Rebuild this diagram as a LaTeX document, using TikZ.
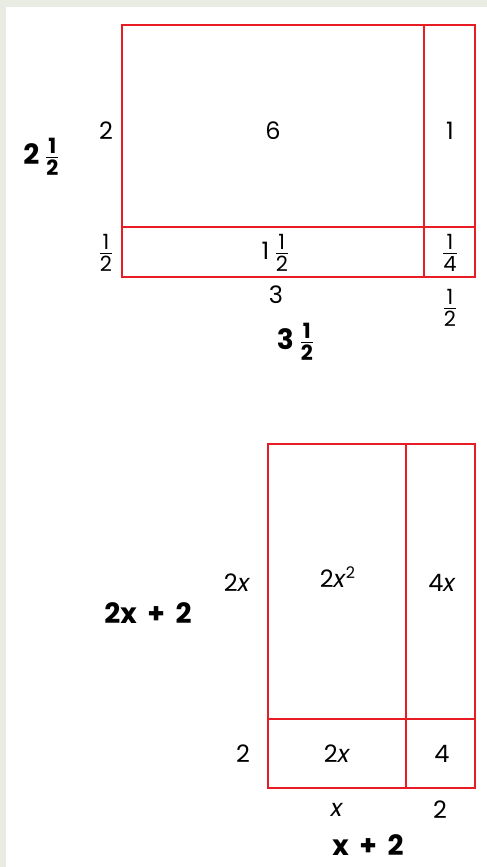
\documentclass[tikz,border=0pt]{standalone}
\usepackage{amsmath}
\usepackage{fontspec}
\setmainfont{Poppins}
\usetikzlibrary{positioning}
\definecolor{boxred}{RGB}{232,28,36}
\definecolor{scanedge}{RGB}{232,236,226}
% stacked fractions, light and bold
\newcommand{\stk}[2]{\ensuremath{\genfrac{}{}{0.5pt}{1}{\mbox{\fontsize{10.5}{11}\selectfont #1\rule[-1.2pt]{0pt}{1pt}}}{\mbox{\fontsize{10.5}{11}\selectfont\rule{0pt}{8.6pt}#2}}}}
\newcommand{\bstk}[2]{\ensuremath{\genfrac{}{}{0.9pt}{1}{\mbox{\fontsize{10.5}{11}\selectfont\bfseries #1}}{\mbox{\fontsize{10.5}{11}\selectfont\bfseries #2}}}}

\begin{document}
\begin{tikzpicture}[x=0.5pt, y=-0.5pt,
  cell/.style={draw=boxred, line width=1pt},
  lbl/.style={font=\fontsize{12}{14}\selectfont, inner sep=1pt},
  sumlbl/.style={font=\fontsize{14}{16}\selectfont\bfseries, inner sep=1pt}]
\useasboundingbox (0,0) rectangle (487,867);
\fill[white] (0,0) rectangle (487,867);
\fill[scanedge] (0,0) rectangle (487,7);
\fill[scanedge] (0,0) rectangle (6,867);
% --- top area model: 2 1/2 by 3 1/2 ---
\coordinate (tNW) at (122,25);
\coordinate (tSE) at (475,277);
\coordinate (tCut) at (424,227);
\draw[cell] (tNW) rectangle (tSE);
\draw[cell] (tNW -| tCut) -- (tSE -| tCut);
\draw[cell] (tNW |- tCut) -- (tSE |- tCut);
\foreach \x/\y/\t/\n in {106/253/{\stk{1}{2}}/tSideB, 276/253/{1\,\stk{1}{2}}/tLow, 450/253/{\stk{1}{4}}/tCorner,
    450/308/{\stk{1}{2}}/tBaseB, 106/131/2/tSideA, 273/131/6/tBig, 450/131/1/tRight, 276/295/3/tBaseA}
  \node[lbl] (\n) at (\x,\y) {\t};
\node[sumlbl] (tHeight) at (42,157) {2\,\bstk{1}{2}};
\node[sumlbl] (tWidth) at (296,342) {3\,\bstk{1}{2}};
% --- bottom area model: 2x + 2 by x + 2 ---
\coordinate (bNW) at (268,444);
\coordinate (bSE) at (475,788);
\coordinate (bCut) at (406,719);
\draw[cell] (bNW) rectangle (bSE);
\draw[cell] (bNW -| bCut) -- (bSE -| bCut);
\draw[cell] (bNW |- bCut) -- (bSE |- bCut);
\foreach \x/\y/\t/\n in {237/583/{2\textit{x}}/bSideA, 338/577/{2\textit{x}\textsuperscript{2}}/bBig,
    442/583/{4\textit{x}}/bRight, 243/754/2/bSideB, 337/754/{2\textit{x}}/bLow,
    442/754/4/bCorner, 337/810/{\textit{x}}/bBaseA, 440/810/2/bBaseB}
  \node[lbl] (\n) at (\x,\y) {\t};
\node[sumlbl] (bHeight) at (148,613) {2x\ \,+\ \,2};
\node[sumlbl] (bWidth) at (368,845) {x\ \,+\ \,2};
\end{tikzpicture}
\end{document}
